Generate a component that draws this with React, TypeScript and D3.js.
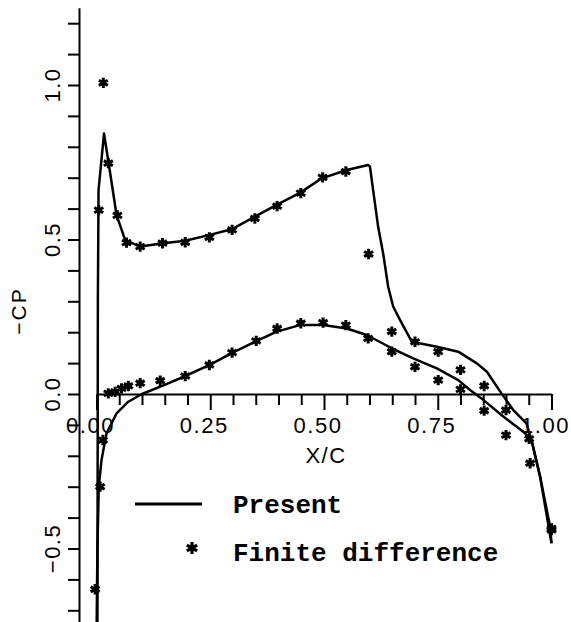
import React, { useEffect, useRef } from 'react';
import * as d3 from 'd3';

// Present method, upper surface
const upperX = [0.002, 0.003, 0.0045, 0.0165, 0.03, 0.044, 0.063, 0.096, 0.147, 0.195, 0.249, 0.297, 0.348, 0.396, 0.447, 0.495, 0.55, 0.597, 0.601, 0.608, 0.619, 0.63, 0.641, 0.652, 0.667, 0.693, 0.748, 0.795, 0.836, 0.858, 0.89, 0.916, 0.945, 0.956, 0.975, 0.997, 1.0];
const upperCp = [-0.8, 0.3, 0.66, 0.843, 0.715, 0.58, 0.498, 0.477, 0.488, 0.496, 0.515, 0.533, 0.574, 0.612, 0.651, 0.698, 0.725, 0.741, 0.736, 0.66, 0.541, 0.455, 0.347, 0.283, 0.24, 0.169, 0.153, 0.137, 0.099, 0.072, 0.002, -0.052, -0.095, -0.149, -0.268, -0.43, -0.483];

// Present method, lower surface
const lowerX = [0.0, 0.002, 0.005, 0.011, 0.022, 0.044, 0.07, 0.1, 0.147, 0.184, 0.249, 0.297, 0.348, 0.396, 0.447, 0.498, 0.55, 0.594, 0.649, 0.696, 0.748, 0.795, 0.821, 0.85, 0.894, 0.938, 0.956, 0.975, 1.0];
const lowerCp = [-0.8, -0.5, -0.3, -0.214, -0.127, -0.063, -0.025, 0.0, 0.028, 0.051, 0.094, 0.132, 0.169, 0.202, 0.223, 0.223, 0.212, 0.191, 0.148, 0.115, 0.083, 0.045, 0.013, -0.019, -0.073, -0.122, -0.149, -0.268, -0.483];

// Finite difference, upper surface
const fdUpperX = [0.005, 0.015, 0.026, 0.046, 0.066, 0.096, 0.145, 0.195, 0.248, 0.298, 0.348, 0.397, 0.449, 0.497, 0.548, 0.598, 0.649, 0.7, 0.751, 0.8, 0.852, 0.9, 0.951, 1.0];
const fdUpperCp = [0.595, 1.007, 0.747, 0.578, 0.49, 0.477, 0.488, 0.491, 0.507, 0.531, 0.568, 0.608, 0.65, 0.701, 0.72, 0.453, 0.202, 0.169, 0.137, 0.078, 0.026, -0.052, -0.145, -0.435];

// Finite difference, lower surface
const fdLowerX = [-0.003, 0.008, 0.014, 0.026, 0.041, 0.055, 0.07, 0.096, 0.14, 0.195, 0.248, 0.298, 0.351, 0.397, 0.449, 0.498, 0.548, 0.597, 0.649, 0.7, 0.751, 0.8, 0.852, 0.9, 0.953, 1.0];
const fdLowerCp = [-0.632, -0.3, -0.149, 0.002, 0.007, 0.018, 0.026, 0.035, 0.043, 0.058, 0.094, 0.134, 0.172, 0.212, 0.229, 0.231, 0.223, 0.18, 0.137, 0.088, 0.045, 0.015, -0.054, -0.133, -0.224, -0.44];

const xTickValues = d3.range(0, 21).map(i => i * 0.05);
const xLabelValues = [0, 0.25, 0.5, 0.75, 1.0];
const xLabels = ['0.00', '0.25', '0.50', '0.75', '1.00'];
const yTickValues = d3.range(-7, 13).map(i => i / 10);
const yLabelValues = [-0.5, 0, 0.5, 1.0];
const yLabels = ['\u22120.5', '0.0', '0.5', '1.0'];

function CpChart() {
  const svgRef = useRef<SVGSVGElement>(null);

  useEffect(() => {
    const svg = d3.select(svgRef.current);
    svg.selectAll('*').remove();

    const x = d3.scaleLinear().domain([0, 1]).range([96.5, 551.5]);
    const y = d3.scaleLinear().domain([-0.75, 1.25]).range([625.75, 7.75]);
    const yAxisX = 79;
    const tickFont = '"Liberation Sans", Arial, sans-serif';

    // y axis, ticks pointing left
    const gy = svg.append('g')
      .attr('transform', `translate(${yAxisX},0)`)
      .call(d3.axisLeft(y).tickValues(yTickValues).tickSize(11).tickSizeOuter(0).tickFormat(() => ''));
    gy.selectAll('path, line').attr('stroke', '#000').attr('stroke-width', 2);

    svg.selectAll('.ylab')
      .data(yLabelValues)
      .enter().append('text')
      .attr('class', 'ylab')
      .attr('x', 60)
      .attr('y', d => y(d))
      .attr('transform', d => `rotate(-90,60,${y(d)})`)
      .attr('text-anchor', 'middle')
      .attr('font-family', tickFont)
      .attr('font-size', 22)
      .attr('letter-spacing', 1.5)
      .text((d, i) => yLabels[i]);

    // x axis on the zero line, ticks pointing down
    const gx = svg.append('g')
      .attr('transform', `translate(0,${y(0)})`)
      .call(d3.axisBottom(x).tickValues(xTickValues).tickSize(11).tickSizeOuter(0).tickFormat(() => ''));
    gx.selectAll('path, line').attr('stroke', '#000').attr('stroke-width', 2);
    gx.selectAll('.tick line')
      .filter((d: any) => Math.abs(d * 4 - Math.round(d * 4)) < 1e-6)
      .attr('y2', 16);

    svg.selectAll('.xlab')
      .data(xLabelValues)
      .enter().append('text')
      .attr('class', 'xlab')
      .attr('x', d => x(d) - 6)
      .attr('y', y(0) + 39)
      .attr('text-anchor', 'middle')
      .attr('font-family', tickFont)
      .attr('font-size', 22)
      .attr('letter-spacing', 1.5)
      .text((d, i) => xLabels[i]);

    // axis titles
    svg.append('text')
      .attr('x', 326)
      .attr('y', 463)
      .attr('text-anchor', 'middle')
      .attr('font-family', tickFont)
      .attr('font-size', 22)
      .attr('letter-spacing', 1.5)
      .text('X/C');

    svg.append('text')
      .attr('x', 26)
      .attr('y', 311)
      .attr('transform', 'rotate(-90,26,311)')
      .attr('text-anchor', 'middle')
      .attr('font-family', tickFont)
      .attr('font-size', 21)
      .attr('letter-spacing', 2)
      .text('\u2212CP');

    // Present curves
    const line = d3.line<[number, number]>()
      .x(d => x(d[0]))
      .y(d => y(d[1]));

    const upper = upperX.map((v, i) => [v, upperCp[i]] as [number, number]);
    const lower = lowerX.map((v, i) => [v, lowerCp[i]] as [number, number]);

    [upper, lower].forEach(pts => {
      svg.append('path')
        .datum(pts)
        .attr('d', line)
        .attr('fill', 'none')
        .attr('stroke', '#000')
        .attr('stroke-width', 2.5)
        .attr('stroke-linejoin', 'round');
    });

    // Finite difference stars
    const star = d3.symbol().type(d3.symbolAsterisk).size(75);
    const fd = fdUpperX.map((v, i) => [v, fdUpperCp[i]])
      .concat(fdLowerX.map((v, i) => [v, fdLowerCp[i]]));

    svg.selectAll('.star')
      .data(fd)
      .enter().append('path')
      .attr('class', 'star')
      .attr('d', star)
      .attr('transform', d => `translate(${x(d[0])},${y(d[1])})`)
      .attr('fill', 'none')
      .attr('stroke', '#000')
      .attr('stroke-width', 3);

    // legend
    const legendFont = '"Liberation Mono", "Courier New", monospace';
    svg.append('line')
      .attr('x1', 135).attr('x2', 202)
      .attr('y1', 504).attr('y2', 504)
      .attr('stroke', '#000')
      .attr('stroke-width', 3);
    svg.append('text')
      .attr('x', 233).attr('y', 513)
      .attr('font-family', legendFont)
      .attr('font-weight', 'bold')
      .attr('font-size', 26)
      .text('Present');

    svg.append('path')
      .attr('d', d3.symbol().type(d3.symbolAsterisk).size(100)())
      .attr('transform', 'translate(192,548)')
      .attr('fill', 'none')
      .attr('stroke', '#000')
      .attr('stroke-width', 3.2);
    svg.append('text')
      .attr('x', 233).attr('y', 561)
      .attr('font-family', legendFont)
      .attr('font-weight', 'bold')
      .attr('font-size', 26)
      .text('Finite difference');
  }, []);

  return (
    <svg
      ref={svgRef}
      width={571}
      height={622}
      style={{ position: 'absolute', left: 0, top: 0, background: '#fff' }}
    ></svg>
  );
}

export default function App() {
  return <CpChart />;
}
